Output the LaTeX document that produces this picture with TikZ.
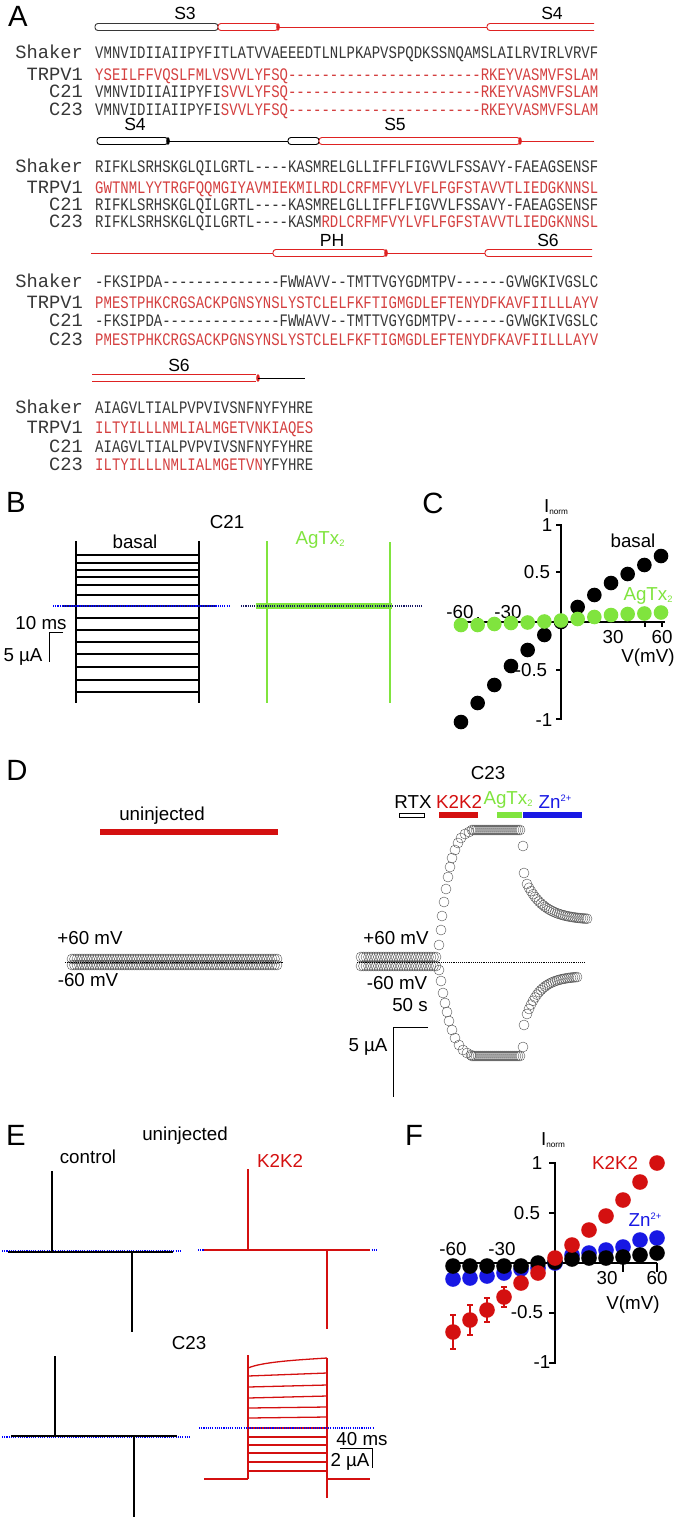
\documentclass[tikz,border=0pt]{standalone}
\usepackage{fontspec}
\setmainfont{Liberation Sans}
\newfontfamily\namefont[Ligatures=TeXOff]{Liberation Mono}
\newfontfamily\seqfont[Ligatures=TeXOff,FakeStretch=0.795]{Liberation Mono}
\usetikzlibrary{positioning}

\definecolor{seqred}{RGB}{212,64,64}
\definecolor{seqgray}{RGB}{55,55,55}
\definecolor{helixred}{RGB}{222,34,34}
\definecolor{agtx}{RGB}{128,228,62}
\definecolor{znblue}{RGB}{24,24,228}
\definecolor{kred}{RGB}{212,16,16}
\definecolor{navy}{RGB}{22,22,100}

\newcommand{\rd}[1]{\textcolor{seqred}{#1}}
\newcommand{\agtx}{AgTx\raisebox{-2pt}{\fontsize{8}{8}\selectfont 2}}
\newcommand{\zinc}{Zn\raisebox{6pt}{\fontsize{8}{8}\selectfont 2+}}
\newcommand{\inorm}{I\raisebox{-1pt}{\fontsize{7}{7}\selectfont norm}}
% helix tubes
\newcommand{\tube}[4]{\draw[#4, line width=0.8pt, rounded corners=2.5pt, fill=white] (#1,#3-3.5) rectangle (#2,#3+3.5);}
\newcommand{\opentube}[4]{\draw[#4, line width=0.8pt, rounded corners=2.5pt] (#2,#3-3.5) -- (#1,#3-3.5) -- (#1,#3+3.5) -- (#2,#3+3.5);}
\newcommand{\hcap}[3]{\fill[#3] (#1,#2) ellipse (1.8 and 3.8);}

\begin{document}
\begin{tikzpicture}[x=0.3mm, y=-0.3mm,
  panel/.style={font=\fontsize{25}{28}\selectfont, inner sep=0pt},
  lbl/.style={font=\fontsize{16}{18}\selectfont, inner sep=0pt},
  hlbl/.style={font=\fontsize{15}{17}\selectfont, inner sep=0pt},
  seq/.style={font=\seqfont\fontsize{15}{16}\selectfont, anchor=base west, inner sep=0pt, text=seqgray},
  seqname/.style={font=\namefont\fontsize{16}{16}\selectfont, anchor=base east, inner sep=0pt, text=seqgray},
  trace/.style={line width=1.1pt},
  zeroline/.style={blue, densely dotted, line width=0.9pt},
  ocirc/.style={draw=gray!65!black, line width=0.35pt},
  axis/.style={line width=1pt}]
\useasboundingbox (0,0) rectangle (677,1519);

% ---------------- A: alignment
\node[panel] (pA) at (18,16) {A};
\node[hlbl] (s3a) at (185,13) {S3};
\node[hlbl] (s4a) at (552,13) {S4};
\tube{95}{218}{27}{seqgray}
\tube{218}{278}{27}{helixred}
\hcap{278}{27}{helixred}
\draw[helixred, line width=0.8pt] (278,27) -- (487,27);
\opentube{487}{594}{27}{helixred}

\node[seqname] (nm1a) at (83,58) {Shaker};
\node[seqname] (nm1b) at (83,80) {TRPV1};
\node[seqname] (nm1c) at (83,97) {C21};
\node[seqname] (nm1d) at (83,115) {C23};
\node[seq] (sq1a) at (95,58) {VMNVIDIIAIIPYFITLATVVAEEEDTLNLPKAPVSPQDKSSNQAMSLAILRVIRLVRVF};
\node[seq] (sq1b) at (95,80) {\rd{YSEILFFVQSLFMLVSVVLYFSQ-----------------------RKEYVASMVFSLAM}};
\node[seq] (sq1c) at (95,97) {VMNVIDIIAIIPYFI\rd{SVVLYFSQ-----------------------RKEYVASMVFSLAM}};
\node[seq] (sq1d) at (95,115) {VMNVIDIIAIIPYFI\rd{SVVLYFSQ-----------------------RKEYVASMVFSLAM}};

\node[hlbl] (s4b) at (135,124) {S4};
\node[hlbl] (s5b) at (395,124) {S5};
\tube{97}{168}{141}{black}
\hcap{168}{141}{black}
\draw[black, line width=0.8pt] (168,141) -- (288,141);
\tube{288}{319}{141}{black}
\tube{319}{520}{141}{helixred}
\hcap{520}{141}{helixred}
\draw[helixred, line width=0.8pt] (520,141) -- (594,141);

\node[seqname] (nm2a) at (83,172) {Shaker};
\node[seqname] (nm2b) at (83,193) {TRPV1};
\node[seqname] (nm2c) at (83,210) {C21};
\node[seqname] (nm2d) at (83,227) {C23};
\node[seq] (sq2a) at (95,172) {RIFKLSRHSKGLQILGRTL----KASMRELGLLIFFLFIGVVLFSSAVY-FAEAGSENSF};
\node[seq] (sq2b) at (95,193) {\rd{GWTNMLYYTRGFQQMGIYAVMIEKMILRDLCRFMFVYLVFLFGFSTAVVTLIEDGKNNSL}};
\node[seq] (sq2c) at (95,210) {RIFKLSRHSKGLQILGRTL----KASMRELGLLIFFLFIGVVLFSSAVY-FAEAGSENSF};
\node[seq] (sq2d) at (95,227) {RIFKLSRHSKGLQILGRTL----KASM\rd{RDLCRFMFVYLVFLFGFSTAVVTLIEDGKNNSL}};

\node[hlbl] (phc) at (332,240) {PH};
\node[hlbl] (s6c) at (548,240) {S6};
\draw[helixred, line width=0.8pt] (91,253) -- (273,253);
\tube{273}{386}{253}{helixred}
\hcap{386}{253}{helixred}
\draw[helixred, line width=0.8pt] (386,253) -- (485,253);
\opentube{485}{592}{253}{helixred}

\node[seqname] (nm3a) at (83,287) {Shaker};
\node[seqname] (nm3b) at (83,308) {TRPV1};
\node[seqname] (nm3c) at (83,326) {C21};
\node[seqname] (nm3d) at (83,345) {C23};
\node[seq] (sq3a) at (95,287) {-FKSIPDA--------------FWWAVV--TMTTVGYGDMTPV------GVWGKIVGSLC};
\node[seq] (sq3b) at (95,308) {\rd{PMESTPHKCRGSACKPGNSYNSLYSTCLELFKFTIGMGDLEFTENYDFKAVFIILLLAYV}};
\node[seq] (sq3c) at (95,326) {-FKSIPDA--------------FWWAVV--TMTTVGYGDMTPV------GVWGKIVGSLC};
\node[seq] (sq3d) at (95,345) {\rd{PMESTPHKCRGSACKPGNSYNSLYSTCLELFKFTIGMGDLEFTENYDFKAVFIILLLAYV}};

\node[hlbl] (s6d) at (179,365) {S6};
\draw[helixred, line width=0.8pt] (92,374.5) -- (256,374.5) (92,381.5) -- (256,381.5);
\hcap{258}{378}{helixred}
\draw[black, line width=0.8pt] (258,378) -- (305,378);

\node[seqname] (nm4a) at (83,413) {Shaker};
\node[seqname] (nm4b) at (83,433) {TRPV1};
\node[seqname] (nm4c) at (83,452) {C21};
\node[seqname] (nm4d) at (83,470) {C23};
\node[seq] (sq4a) at (95,413) {AIAGVLTIALPVPVIVSNFNYFYHRE};
\node[seq] (sq4b) at (95,433) {\rd{ILTYILLLNMLIALMGETVNKIAQES}};
\node[seq] (sq4c) at (95,452) {AIAGVLTIALPVPVIVSNFNYFYHRE};
\node[seq] (sq4d) at (95,470) {\rd{ILTYILLLNMLIALMGETVN}YFYHRE};

% ---------------- B: C21 currents
\node[panel] (pB) at (16,502) {B};
\node[lbl] (c21) at (227,522) {C21};
\node[lbl] (basalB) at (135,542) {basal};
\node[lbl, text=agtx] (agtxB) at (320,540) {\agtx};
\foreach \y in {555,563,570,577,585,595,618,630,642,654,667,680,692}
  \draw[trace] (76,\y) -- (199,\y);
\draw[line width=1.6pt] (76,541) -- (76,703);
\draw[line width=1pt] (199,541) -- (199,703);
\draw[navy, line width=1.4pt] (62,606) -- (217,606);
\draw[zeroline] (53,606) -- (230,606);
\draw[agtx, line width=5pt] (256,606) -- (392,606);
\draw[agtx, line width=1.8pt] (267,541) -- (267,703);
\draw[agtx, line width=1pt] (390,542) -- (390,703);
\draw[navy, densely dotted, line width=0.9pt] (241,606) -- (422,606);
% scale bar
\node[lbl] (msB) at (41,623) {10 ms};
\node[lbl] (uaB) at (23,657) {5 µA};
\draw[line width=0.8pt] (63,632) -- (49,632) -- (49,662);

% ---------------- C: I-V
\node[panel] (pC) at (433,503) {C};
\node[lbl] (inC) at (556,507) {\inorm};
\draw[axis] (556,525) -- (561,525) -- (561,719) -- (556,719);
\draw[axis] (556,572) -- (561,572) (556,670) -- (561,670);
\draw[axis] (457,622) -- (665,622);
\draw[axis] (478,622) -- (478,617) (645,622) -- (645,627) (662,622) -- (662,627);
\node[lbl] (c1) at (547,525) {1};
\node[lbl] (c05) at (537,572) {0.5};
\node[lbl] (cm05) at (531,670) {-0.5};
\node[lbl] (cm1) at (544,720) {-1};
\node[lbl] (cm60) at (460,612) {-60};
\node[lbl] (cm30) at (508,612) {-30};
\node[lbl] (c30) at (613,637) {30};
\node[lbl] (c60) at (662,637) {60};
\node[lbl] (cvm) at (648,658) {V(mV)};
\foreach \v/\i in {-60/722,-50/703,-40/685,-30/666,-20/650,-10/635,0/622,10/607,20/595,30/583,40/574,50/565,60/556}
  \fill[black] (561+1.667*\v,\i) circle (7.3);
\foreach \v/\i in {-60/625,-50/625,-40/624,-30/623,-20/622.5,-10/621.5,0/620.5,10/619,20/617,30/615,40/614,50/613.5,60/612.5}
  \fill[agtx] (561+1.667*\v,\i) circle (7.3);
\node[lbl] (basalC) at (633,541) {basal};
\node[lbl, text=agtx] (agtxC) at (648,596) {\agtx};

% ---------------- D: time courses
\node[panel] (pD) at (17,770) {D};
\node[lbl] (uninjD) at (162,816) {uninjected};
\draw[kred, line width=5pt] (100,832) -- (278,832);
\foreach \x in {72,74.5,...,278} {
  \draw[ocirc] (\x,959) circle (5);
  \draw[ocirc] (\x,965) circle (5);
}
\draw[densely dotted, line width=0.6pt] (65,962) -- (283,962);
\node[lbl] (p60L) at (90,938) {+60 mV};
\node[lbl] (m60L) at (88,980) {-60 mV};

\node[lbl] (c23D) at (488,773) {C23};
\node[lbl] (rtx) at (413,802) {RTX};
\node[lbl, text=kred] (k2D) at (459,802) {K2K2};
\node[lbl, text=agtx] (agD) at (508,800) {\agtx};
\node[lbl, text=znblue] (znD) at (555,802) {\zinc};
\draw[line width=0.8pt] (399,813) rectangle (424,817);
\draw[kred, line width=4.5pt] (439,815) -- (478,815);
\draw[agtx, line width=4.5pt] (497,815) -- (522,815);
\draw[znblue, line width=4.5pt] (523,815) -- (582,815);
\foreach \x in {361,363.5,...,436} {
  \draw[ocirc] (\x,957) circle (5);
  \draw[ocirc] (\x,966) circle (5);
}
\foreach \x/\y in {439/945,441/930,442/916,444/902,446/889,448/877,450/867,452/858,455/850,458/843,461/838,465/834,469/832,
  439/970,441/981,443/993,445/1003,447/1012,449/1021,452/1030,455/1038,459/1045,463/1050,467/1053,471/1055,
  523/846,524/873,523/1047,524/1025}
  \draw[ocirc] (\x,\y) circle (5);
\foreach \x in {472,474,...,520} {
  \draw[ocirc] (\x,830) circle (5);
  \draw[ocirc] (\x,1056) circle (5);
}
\foreach \x in {527,529,...,587} {
  \pgfmathsetmacro\yy{920-36*exp(-(\x-527)/18)}
  \draw[ocirc] (\x,\yy) circle (5);
}
\foreach \x in {527,529,...,578} {
  \pgfmathsetmacro\yy{976+38*exp(-(\x-527)/14)}
  \draw[ocirc] (\x,\yy) circle (5);
}
\draw[densely dotted, line width=0.6pt] (357,962) -- (585,962);
\node[lbl] (p60R) at (396,938) {+60 mV};
\node[lbl] (m60R) at (397,983) {-60 mV};
\node[lbl] (sD) at (410,1005) {50 s};
\node[lbl] (uaD) at (368,1047) {5 µA};
\draw[line width=0.8pt] (428,1027) -- (393,1027) -- (393,1097);

% ---------------- E: current traces
\node[panel] (pE) at (16,1135) {E};
\node[lbl] (uninjE) at (185,1136) {uninjected};
\node[lbl] (ctrlE) at (88,1157) {control};
\node[lbl, text=kred] (k2E) at (280,1161) {K2K2};
\node[lbl] (c23E) at (189,1343) {C23};
% uninjected, control
\draw[zeroline] (2,1251) -- (182,1251);
\draw[trace] (8,1252) -- (173,1252);
\draw[line width=1.8pt] (52,1252) -- (132,1252);
\draw[line width=1.3pt] (52,1171) -- (52,1252) (132,1252) -- (132,1332);
% uninjected, K2K2
\draw[zeroline] (198,1250) -- (378,1250);
\draw[kred, trace] (204,1250) -- (370,1250);
\draw[kred, line width=1.8pt] (248,1250) -- (327,1250);
\draw[kred, line width=1.3pt] (248,1169) -- (248,1250) (327,1250) -- (327,1329);
% C23, control
\draw[zeroline] (2,1437) -- (190,1437);
\draw[trace] (11,1436) -- (177,1436);
\draw[line width=1.8pt] (55,1436) -- (134,1436);
\draw[line width=1.3pt] (55,1356) -- (55,1436) (134,1436) -- (134,1517);
% C23, K2K2
\draw[kred, trace] (248,1368) .. controls (262,1362) and (295,1360) .. (327,1358);
\foreach \yl/\yr in {1376/1373,1387/1385,1398/1396,1408/1407,1418/1417,1428/1428,1437/1437,1445/1445,1453/1453,1462/1462,1471/1471}
  \draw[kred, trace] (248,\yl) -- (327,\yr);
\draw[kred, line width=1.6pt] (204,1479) -- (248,1479) (327,1479) -- (370,1479);
\draw[kred, line width=1.3pt] (248,1355) -- (248,1479) (327,1358) -- (327,1498);
\draw[zeroline] (199,1428) -- (373,1428);
\node[lbl] (msE) at (362,1439) {40 ms};
\node[lbl] (uaE) at (350,1462) {2 µA};
\draw[line width=0.8pt] (340,1448) -- (372,1448) -- (372,1468);

% ---------------- F: I-V
\node[panel] (pF) at (414,1135) {F};
\node[lbl] (inF) at (553,1140) {\inorm};
\draw[axis] (549,1163) -- (555,1163) -- (555,1363) -- (549,1363);
\draw[axis] (549,1213) -- (555,1213) (549,1313) -- (555,1313);
\draw[axis] (447,1263) -- (657,1263);
\draw[axis] (623,1263) -- (623,1272) (657,1263) -- (657,1272);
\node[lbl] (f1) at (537,1163) {1};
\node[lbl] (f05) at (527,1213) {0.5};
\node[lbl] (fm05) at (527,1312) {-0.5};
\node[lbl] (fm1) at (542,1362) {-1};
\node[lbl] (fm60) at (453,1249) {-60};
\node[lbl] (fm30) at (502,1249) {-30};
\node[lbl] (f30) at (607,1278) {30};
\node[lbl] (f60) at (657,1278) {60};
\node[lbl] (fvm) at (633,1305) {V(mV)};
\foreach \v/\i in {-60/1279,-50/1278,-40/1276,-30/1273,-20/1269,-10/1268,0/1263,10/1255,20/1253,30/1250,40/1247,50/1240,60/1238}
  \fill[znblue] (555+1.7*\v,\i) circle (7.8);
\foreach \v/\i in {-60/1266,-50/1266,-40/1266,-30/1266,-20/1266,-10/1263,0/1262,10/1259,20/1258,30/1258,40/1257,50/1255,60/1253}
  \fill[black] (555+1.7*\v,\i) circle (7.8);
\foreach \v/\i/\e in {-60/1332/17,-50/1320/15,-40/1310/12,-30/1297/10,-20/1283/5}
  \draw[kred, line width=1pt] (555+1.7*\v,\i-\e) -- (555+1.7*\v,\i+\e)
    (555+1.7*\v-3,\i-\e) -- (555+1.7*\v+3,\i-\e) (555+1.7*\v-3,\i+\e) -- (555+1.7*\v+3,\i+\e);
\foreach \v/\i in {-60/1332,-50/1320,-40/1310,-30/1297,-20/1283,-10/1273,0/1258,10/1245,20/1230,30/1216,40/1200,50/1182,60/1163}
  \fill[kred] (555+1.7*\v,\i) circle (7.8);
\node[lbl, text=kred] (k2F) at (615,1163) {K2K2};
\node[lbl, text=znblue] (znF) at (645,1220) {\zinc};
\end{tikzpicture}
\end{document}
